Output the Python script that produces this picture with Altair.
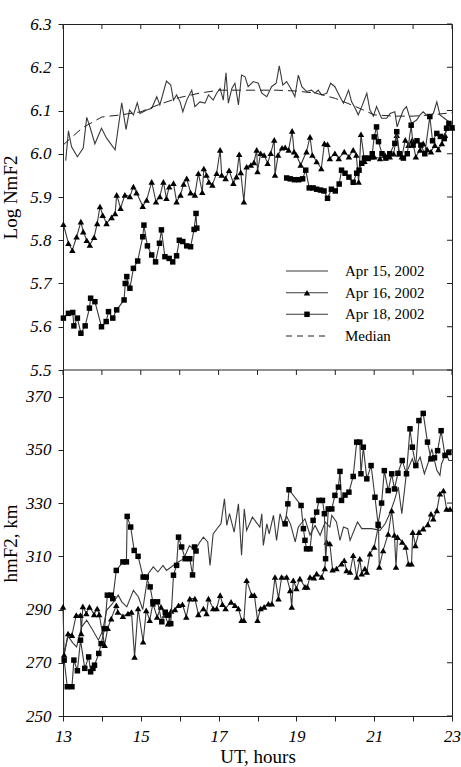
import altair as alt
import pandas as pd

FONT = "Liberation Serif"
LINE_C = "#3a3a3a"

series_names = ["Apr 15, 2002", "Apr 16, 2002", "Apr 18, 2002", "Median"]
hours = [13, 14, 15, 16, 17, 18, 19, 20, 21, 22, 23]
top_ticks = [5.5, 5.6, 5.7, 5.8, 5.9, 6.0, 6.1, 6.2, 6.3]
bot_ticks = [250, 270, 290, 310, 330, 350, 370]

# ---------------- Log NmF2 (top panel) ----------------
t15_n = [13.07, 13.14, 13.22, 13.37, 13.52, 13.61, 13.69, 13.82, 13.99, 14.12, 14.34, 14.51, 14.62, 14.71, 14.81,
         14.91, 14.98, 15.15, 15.28, 15.41, 15.49, 15.66, 15.77, 15.84, 15.92, 16.01, 16.08, 16.18, 16.31, 16.39,
         16.52, 16.65, 16.74, 16.86, 16.95, 17.04, 17.12, 17.19, 17.25, 17.34, 17.42, 17.51, 17.59, 17.68, 17.76,
         17.89, 18.02, 18.11, 18.24, 18.36, 18.48, 18.56, 18.65, 18.75, 18.88, 18.96, 19.05, 19.14, 19.26, 19.39,
         19.48, 19.56, 19.65, 19.78, 19.88, 19.99, 20.12, 20.21, 20.34, 20.42, 20.51, 20.59, 20.68, 20.81, 20.89,
         20.98, 21.06, 21.19, 21.32, 21.41, 21.53, 21.59, 21.65, 21.75, 21.83, 21.96, 22.09, 22.18, 22.26, 22.39,
         22.52, 22.61, 22.69, 22.86, 22.99]
v15_n = [5.984, 6.053, 6.016, 5.993, 6.013, 6.084, 6.063, 6.023, 6.059, 6.036, 6.009, 6.118, 6.056, 6.101, 6.090,
         6.118, 6.093, 6.101, 6.105, 6.132, 6.113, 6.168, 6.159, 6.124, 6.136, 6.120, 6.097, 6.124, 6.147, 6.109,
         6.120, 6.117, 6.136, 6.124, 6.140, 6.151, 6.124, 6.187, 6.117, 6.151, 6.163, 6.113, 6.182, 6.178, 6.155,
         6.167, 6.163, 6.140, 6.132, 6.155, 6.163, 6.203, 6.159, 6.167, 6.147, 6.132, 6.182, 6.155, 6.144, 6.147,
         6.140, 6.147, 6.136, 6.140, 6.163, 6.155, 6.132, 6.117, 6.147, 6.120, 6.105, 6.090, 6.109, 6.140, 6.101,
         6.087, 6.109, 6.082, 6.082, 6.093, 6.097, 6.062, 6.078, 6.101, 6.109, 6.070, 6.078, 6.090, 6.097, 6.086,
         6.093, 6.120, 6.090, 6.078, 6.070]

t16_n = [13.01, 13.14, 13.24, 13.35, 13.46, 13.52, 13.61, 13.69, 13.80, 13.88, 13.95, 14.02, 14.12, 14.25, 14.34,
         14.38, 14.48, 14.59, 14.72, 14.81, 14.89, 15.05, 15.15, 15.28, 15.39, 15.49, 15.58, 15.66, 15.73, 15.84,
         15.92, 16.02, 16.10, 16.18, 16.28, 16.39, 16.48, 16.58, 16.62, 16.69, 16.75, 16.84, 16.95, 17.04, 17.08,
         17.18, 17.27, 17.38, 17.46, 17.53, 17.57, 17.65, 17.72, 17.83, 17.91, 17.98, 18.00, 18.08, 18.17, 18.26,
         18.34, 18.43, 18.45, 18.53, 18.63, 18.71, 18.80, 18.89, 18.94, 19.00, 19.11, 19.26, 19.35, 19.41, 19.52,
         19.64, 19.72, 19.80, 19.86, 19.99, 20.09, 20.23, 20.35, 20.46, 20.54, 20.60, 20.66, 20.75, 20.83, 20.94,
         21.00, 21.15, 21.28, 21.40, 21.50, 21.58, 21.64, 21.71, 21.80, 21.88, 21.98, 22.07, 22.18, 22.26, 22.36,
         22.46, 22.56, 22.65, 22.74, 22.82, 22.92, 23.00]
v16_n = [5.837, 5.793, 5.777, 5.808, 5.843, 5.820, 5.800, 5.789, 5.807, 5.839, 5.878, 5.858, 5.839, 5.853, 5.862,
         5.905, 5.874, 5.905, 5.901, 5.924, 5.910, 5.879, 5.893, 5.935, 5.889, 5.901, 5.935, 5.897, 5.924, 5.932,
         5.889, 5.905, 5.930, 5.943, 5.910, 5.905, 5.955, 5.911, 5.966, 5.951, 5.935, 5.928, 5.955, 6.009, 5.951,
         5.943, 5.962, 5.932, 5.947, 5.999, 5.957, 5.889, 5.970, 5.974, 5.980, 6.009, 5.959, 6.001, 5.997, 5.978,
         6.001, 6.032, 5.951, 5.997, 6.014, 6.015, 6.009, 6.053, 6.005, 5.997, 5.974, 6.005, 6.039, 5.997, 5.982,
         5.966, 6.024, 6.022, 5.989, 6.001, 5.989, 6.005, 5.993, 6.009, 5.997, 5.935, 6.045, 5.983, 5.989, 5.993,
         5.993, 5.989, 5.997, 5.993, 6.000, 6.043, 6.000, 5.993, 6.032, 6.020, 6.032, 5.993, 6.009, 6.024, 6.010,
         6.005, 6.020, 6.010, 6.024, 6.043, 6.070, 6.060]

t18a_n = [13.01, 13.14, 13.25, 13.28, 13.37, 13.46, 13.57, 13.68, 13.71, 13.82, 13.99, 14.11, 14.17, 14.28, 14.38,
          14.57, 14.60, 14.64, 14.72, 14.81, 14.92, 15.05, 15.08, 15.17, 15.28, 15.38, 15.48, 15.53, 15.62, 15.73,
          15.82, 15.92, 15.99, 16.08, 16.18, 16.28, 16.37, 16.42, 16.44]
v18a_n = [5.620, 5.631, 5.633, 5.602, 5.620, 5.585, 5.602, 5.643, 5.666, 5.658, 5.600, 5.612, 5.635, 5.620, 5.639,
          5.662, 5.700, 5.716, 5.689, 5.735, 5.752, 5.808, 5.835, 5.787, 5.766, 5.750, 5.793, 5.824, 5.762, 5.758,
          5.750, 5.764, 5.800, 5.797, 5.787, 5.785, 5.825, 5.862, 5.828]
t18b_n = [18.75, 18.84, 18.95, 19.06, 19.16, 19.24, 19.33, 19.43, 19.52, 19.62, 19.71, 19.80, 19.90, 20.00, 20.10,
          20.16, 20.25, 20.35, 20.46, 20.55, 20.61, 20.68, 20.75, 20.85, 20.95, 21.00, 21.06, 21.11, 21.20, 21.30,
          21.40, 21.53, 21.58, 21.65, 21.75, 21.85, 21.95, 22.00, 22.10, 22.20, 22.30, 22.43, 22.50, 22.61, 22.70,
          22.80, 22.86, 22.92, 23.00]
v18b_n = [5.944, 5.942, 5.940, 5.940, 5.942, 5.962, 5.921, 5.921, 5.918, 5.916, 5.914, 5.897, 5.918, 5.914, 5.930,
          5.962, 5.955, 5.946, 5.934, 5.955, 5.962, 5.978, 5.990, 5.990, 6.000, 6.039, 6.062, 6.028, 6.000, 5.990,
          6.000, 6.024, 6.051, 6.000, 5.990, 6.000, 6.066, 6.020, 6.030, 6.020, 6.000, 6.086, 6.030, 6.047, 6.040,
          6.035, 6.059, 6.070, 6.060]

tmed_n = [13.0, 13.5, 14.0, 14.5, 15.0, 15.5, 16.0, 16.5, 17.0, 17.5, 18.0, 18.5, 19.0, 19.5, 20.0, 20.5, 21.0,
          21.5, 22.0, 22.5, 23.0]
vmed_n = [6.020, 6.060, 6.085, 6.090, 6.097, 6.115, 6.130, 6.140, 6.147, 6.147, 6.147, 6.147, 6.145, 6.140, 6.128,
          6.110, 6.090, 6.087, 6.087, 6.090, 6.095]

# ---------------- hmF2 (bottom panel) ----------------
t15_h = [13.03, 13.13, 13.25, 13.35, 13.48, 13.61, 13.74, 13.91, 14.02, 14.12, 14.26, 14.42, 14.51, 14.64, 14.81,
         14.94, 15.05, 15.19, 15.32, 15.44, 15.57, 15.66, 15.78, 15.96, 16.10, 16.25, 16.39, 16.52, 16.61, 16.72,
         16.78, 16.86, 16.99, 17.06, 17.15, 17.21, 17.28, 17.40, 17.51, 17.59, 17.66, 17.72, 17.87, 18.06, 18.11,
         18.15, 18.24, 18.30, 18.41, 18.49, 18.58, 18.66, 18.75, 18.85, 18.97, 19.05, 19.22, 19.35, 19.48, 19.61,
         19.74, 19.86, 19.91, 20.03, 20.12, 20.21, 20.32, 20.38, 20.57, 20.68, 20.94, 21.15, 21.28, 21.40, 21.52,
         21.62, 21.71, 21.83, 21.98, 22.05, 22.18, 22.29, 22.39, 22.48, 22.61, 22.69, 22.73, 22.85, 22.92, 23.00]
v15_h = [273.5, 280.0, 277.5, 276.0, 283.5, 286.0, 282.9, 278.5, 282.0, 289.7, 292.0, 295.4, 292.9, 291.0, 297.2,
         294.7, 290.0, 303.5, 306.0, 304.1, 306.6, 304.7, 306.0, 307.9, 309.0, 314.0, 312.2, 315.4, 317.2, 315.4,
         306.6, 318.4, 321.0, 322.2, 331.6, 321.6, 326.0, 319.1, 329.7, 310.4, 327.8, 319.7, 324.7, 321.0, 326.0,
         314.1, 322.2, 318.4, 325.4, 316.0, 326.0, 322.2, 325.0, 322.0, 315.4, 321.0, 324.1, 318.0, 321.6, 317.9,
         322.9, 321.0, 325.4, 322.9, 316.0, 321.0, 320.4, 316.0, 322.9, 320.4, 320.4, 319.7, 322.2, 326.0, 331.0,
         336.0, 326.0, 341.5, 346.6, 343.4, 347.3, 341.0, 345.3, 350.4, 342.3, 340.4, 344.7, 349.0, 346.0, 346.0]

t16_h = [13.00, 13.03, 13.13, 13.23, 13.34, 13.45, 13.47, 13.51, 13.60, 13.68, 13.80, 13.88, 13.93, 14.07, 14.15,
         14.24, 14.37, 14.41, 14.54, 14.67, 14.76, 14.84, 14.93, 15.06, 15.14, 15.23, 15.31, 15.42, 15.52, 15.62,
         15.70, 15.78, 15.88, 15.97, 16.07, 16.17, 16.26, 16.39, 16.48, 16.61, 16.69, 16.74, 16.86, 16.95, 17.04,
         17.10, 17.18, 17.32, 17.42, 17.51, 17.59, 17.65, 17.72, 17.85, 17.92, 18.00, 18.08, 18.17, 18.28, 18.37,
         18.45, 18.54, 18.62, 18.75, 18.84, 18.88, 18.92, 19.00, 19.09, 19.22, 19.28, 19.35, 19.45, 19.52, 19.65,
         19.73, 19.78, 19.86, 19.93, 20.03, 20.16, 20.23, 20.29, 20.38, 20.46, 20.55, 20.63, 20.68, 20.76, 20.81,
         20.89, 21.00, 21.11, 21.13, 21.23, 21.36, 21.45, 21.52, 21.56, 21.60, 21.72, 21.81, 21.88, 21.96, 21.99,
         22.06, 22.15, 22.26, 22.38, 22.46, 22.52, 22.61, 22.69, 22.78, 22.86, 22.95]
v16_h = [291.0, 273.0, 281.0, 280.4, 287.9, 287.9, 281.0, 291.2, 288.5, 291.0, 288.2, 290.4, 288.2, 276.6, 283.0,
         286.6, 291.6, 289.1, 287.5, 288.5, 289.1, 272.2, 290.4, 277.9, 289.7, 286.0, 292.2, 287.2, 291.0, 288.0,
         284.7, 289.5, 290.0, 291.6, 292.0, 287.2, 294.1, 294.1, 288.2, 290.4, 288.5, 294.1, 290.4, 290.4, 295.4,
         292.0, 290.4, 292.9, 291.6, 290.4, 286.0, 286.0, 301.0, 295.4, 295.4, 286.0, 290.4, 291.0, 292.2, 292.2,
         302.2, 294.1, 302.2, 302.2, 297.2, 291.0, 301.0, 297.9, 301.6, 298.5, 298.5, 302.2, 302.0, 303.5, 302.2,
         305.4, 315.4, 314.8, 305.0, 305.4, 307.2, 308.5, 304.7, 304.1, 310.4, 302.2, 309.1, 303.5, 305.4, 304.1,
         311.0, 313.5, 321.6, 306.0, 312.2, 318.4, 327.2, 318.0, 306.0, 317.2, 315.4, 313.5, 307.2, 307.2, 319.1,
         314.1, 319.1, 320.4, 322.0, 326.0, 324.1, 327.2, 333.5, 334.7, 327.8, 327.8]

t18a_h = [13.03, 13.11, 13.23, 13.28, 13.37, 13.45, 13.56, 13.66, 13.71, 13.77, 13.81, 13.92, 13.98, 14.07, 14.14,
          14.24, 14.28, 14.37, 14.54, 14.63, 14.65, 14.74, 14.83, 14.93, 15.06, 15.14, 15.24, 15.31, 15.43, 15.54,
          15.63, 15.71, 15.77, 15.84, 15.92, 15.97, 16.05, 16.14, 16.26, 16.33, 16.38, 16.42]
v18a_h = [271.0, 261.0, 261.0, 271.0, 267.0, 278.5, 267.9, 272.2, 266.6, 267.9, 269.1, 273.5, 277.2, 282.8, 295.4,
          295.4, 294.1, 304.7, 307.9, 307.9, 325.0, 321.0, 312.2, 310.0, 302.2, 302.2, 298.5, 292.9, 292.9, 285.4,
          289.0, 287.9, 284.7, 302.9, 306.6, 317.2, 313.5, 309.1, 309.1, 303.0, 313.5, 312.0]
t18b_h = [18.71, 18.78, 18.81, 19.12, 19.18, 19.22, 19.26, 19.35, 19.43, 19.52, 19.58, 19.67, 19.72, 19.75, 19.82,
          19.91, 19.99, 20.08, 20.12, 20.16, 20.25, 20.35, 20.46, 20.55, 20.63, 20.66, 20.72, 20.81, 20.92, 21.02,
          21.10, 21.19, 21.26, 21.36, 21.45, 21.52, 21.61, 21.72, 21.83, 21.92, 21.98, 22.07, 22.15, 22.26, 22.37,
          22.46, 22.55, 22.63, 22.72, 22.82, 22.92]
v18b_h = [322.2, 329.7, 335.0, 329.1, 320.4, 316.0, 312.8, 312.8, 323.5, 326.6, 331.0, 331.0, 326.0, 309.1, 327.8,
          327.8, 332.9, 336.0, 341.9, 331.0, 333.0, 334.1, 340.0, 352.9, 352.9, 341.0, 351.0, 339.1, 344.1, 332.2,
          322.0, 330.0, 342.2, 334.7, 341.0, 335.3, 341.2, 346.0, 341.0, 357.9, 351.0, 344.1, 361.0, 363.7, 352.9,
          346.6, 347.0, 349.7, 357.2, 347.9, 349.0]

# ---------------- layout constants ----------------
W = 389          # plot width
PH = 346         # height of each panel
H = 2 * PH
TRI = 42
SQ = 30


def frame(t, v, seg=0):
    return pd.DataFrame({"t": t, "v": v, "seg": seg})


x_scale = alt.Scale(domain=[13, 23], nice=False, zero=False)
y_top_scale = alt.Scale(domain=[5.5, 6.3], range=[PH, 0], nice=False, zero=False)
y_bot_scale = alt.Scale(domain=[250, 380], range=[H, PH], nice=False, zero=False)

lab = dict(labelFont=FONT, labelFontSize=17, labelFontStyle="italic", labelColor="black",
           titleFont=FONT, titleFontSize=19, titleFontWeight="normal", titleColor="black",
           tickColor="#222", tickWidth=1, domain=False, grid=False, labelFlush=False, labelOverlap=False)

x_axis = alt.Axis(values=hours, format="d", tickSize=5, labelPadding=7, title="UT, hours", titlePadding=3,
                  labelExpr="datum.value % 2 == 1 ? datum.label : ''", **lab)
y_axis_top = alt.Axis(orient="left", values=top_ticks, format=".1f", tickSize=5, labelPadding=7,
                      title="Log NmF2", titlePadding=9, **lab)
y_axis_bot = alt.Axis(orient="left", values=bot_ticks, format="d", tickSize=5, labelPadding=7,
                      title="hmF2, km", titlePadding=5, **lab)

X = alt.X("t:Q", scale=x_scale, axis=x_axis)


def series_layers(d, yscale, shape, size, first_axis=None):
    Y0 = alt.Y("v:Q", scale=yscale, axis=first_axis)
    Y = alt.Y("v:Q", scale=yscale, axis=None)
    out = [alt.Chart(d).mark_line(color=LINE_C, strokeWidth=1.1).encode(x=X, y=Y0, detail="seg:N")]
    if shape:
        out.append(alt.Chart(d).mark_point(shape=shape, filled=True, color="black", size=size, opacity=1)
                   .encode(x=X, y=Y))
    return out


layers = []
# top panel
layers += series_layers(frame(t15_n, v15_n), y_top_scale, None, 0, y_axis_top)
layers += series_layers(frame(t16_n, v16_n), y_top_scale, "triangle-up", TRI)
layers += series_layers(pd.concat([frame(t18a_n, v18a_n, 0), frame(t18b_n, v18b_n, 1)], ignore_index=True),
                        y_top_scale, "square", SQ)
layers.append(alt.Chart(frame(tmed_n, vmed_n)).mark_line(color="#222", strokeWidth=1, strokeDash=[9, 5])
              .encode(x=X, y=alt.Y("v:Q", scale=y_top_scale, axis=None)))
# bottom panel
layers += series_layers(frame(t15_h, v15_h), y_bot_scale, None, 0, y_axis_bot)
layers += series_layers(frame(t16_h, v16_h), y_bot_scale, "triangle-up", TRI)
layers += series_layers(pd.concat([frame(t18a_h, v18a_h, 0), frame(t18b_h, v18b_h, 1)], ignore_index=True),
                        y_bot_scale, "square", SQ)

# inward ticks on the right edge of both panels
layers.append(alt.Chart(pd.DataFrame({"v": top_ticks})).mark_rule(color="#222", strokeWidth=1)
              .encode(y=alt.Y("v:Q", scale=y_top_scale, axis=None), x=alt.value(W - 5), x2=alt.value(W)))
layers.append(alt.Chart(pd.DataFrame({"v": bot_ticks})).mark_rule(color="#222", strokeWidth=1)
              .encode(y=alt.Y("v:Q", scale=y_bot_scale, axis=None), x=alt.value(W - 5), x2=alt.value(W)))
# inward ticks on top edge and downward ticks at the panel boundary
hours_df = pd.DataFrame({"t": hours})
layers.append(alt.Chart(hours_df).mark_rule(color="#222", strokeWidth=1)
              .encode(x=X, y=alt.value(0), y2=alt.value(5)))
layers.append(alt.Chart(hours_df).mark_rule(color="#222", strokeWidth=1)
              .encode(x=X, y=alt.value(PH), y2=alt.value(PH + 5)))
# boundary line between panels
layers.append(alt.Chart(pd.DataFrame({"a": [0]})).mark_rule(color="#222", strokeWidth=1)
              .encode(x=alt.value(0), x2=alt.value(W), y=alt.value(PH)))

# legend (top panel, lower right)
one = pd.DataFrame({"a": [0]})
leg_y = [247, 268.7, 290.3, 312]
for i, nm in enumerate(series_names):
    yy = leg_y[i]
    if nm == "Median":
        layers.append(alt.Chart(one).mark_rule(color="#222", strokeWidth=1, strokeDash=[6, 5])
                      .encode(x=alt.value(223), x2=alt.value(265), y=alt.value(yy)))
    else:
        layers.append(alt.Chart(one).mark_rule(color=LINE_C, strokeWidth=1.1)
                      .encode(x=alt.value(223), x2=alt.value(265), y=alt.value(yy)))
    if nm == "Apr 16, 2002":
        layers.append(alt.Chart(one).mark_point(shape="triangle-up", filled=True, color="black", size=TRI, opacity=1)
                      .encode(x=alt.value(244), y=alt.value(yy)))
    if nm == "Apr 18, 2002":
        layers.append(alt.Chart(one).mark_point(shape="square", filled=True, color="black", size=SQ, opacity=1)
                      .encode(x=alt.value(244), y=alt.value(yy)))
    layers.append(alt.Chart(pd.DataFrame({"name": [nm]}))
                  .mark_text(align="left", baseline="middle", font=FONT, fontSize=15, color="black")
                  .encode(text="name:N", x=alt.value(282), y=alt.value(yy)))

chart = alt.layer(*layers).resolve_scale(y="independent").properties(
    width=W, height=H,
    padding={"left": 63, "top": 24, "right": 9, "bottom": 51},
    autosize=alt.AutoSizeParams(type="none"),
    background="white",
).configure_view(stroke="#222", strokeWidth=1)

chart.save("out.html", embed_options={"renderer": "svg", "actions": False})
